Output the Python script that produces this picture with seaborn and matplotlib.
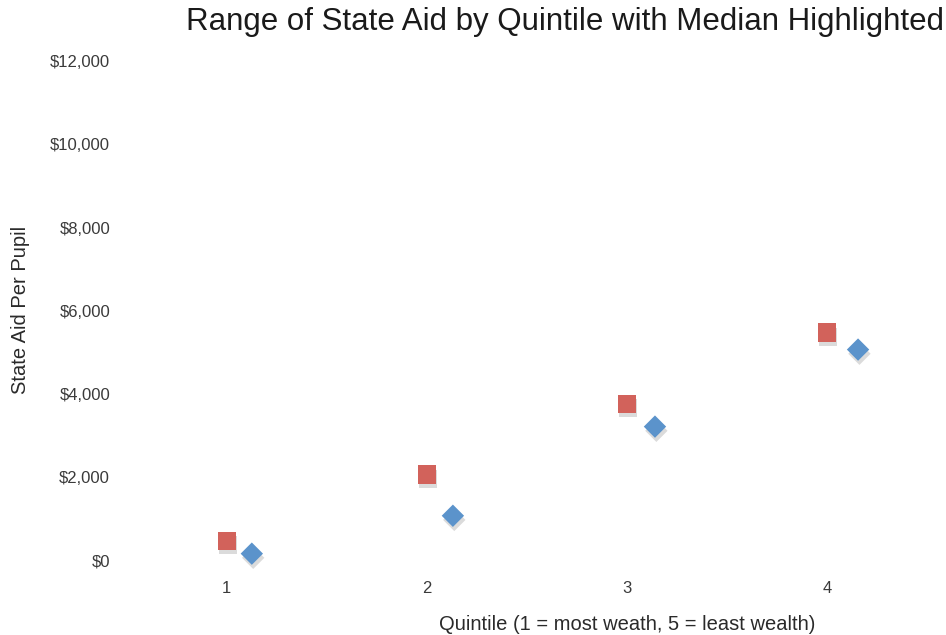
import matplotlib
matplotlib.use("Agg")
import matplotlib.pyplot as plt
import matplotlib.patheffects as pe
import pandas as pd
import seaborn as sns

# values
quintile_ticks = [1, 2, 3, 4]
median_x = [1, 2, 3, 4]
median_aid = [480, 2070, 3770, 5480]
range_x = [1.125, 2.13, 3.14, 4.155]
range_aid = [170, 1080, 3220, 5070]
y_ticks = [0, 2000, 4000, 6000, 8000, 10000, 12000]

red = "#D2625B"
blue = "#5B93CB"

df = pd.concat([
    pd.DataFrame({"quintile": median_x, "aid": median_aid, "series": "median"}),
    pd.DataFrame({"quintile": range_x, "aid": range_aid, "series": "range"}),
], ignore_index=True)

sns.set_theme(style="white")
plt.rcParams["font.family"] = ["Liberation Sans", "DejaVu Sans"]

fig = plt.figure(figsize=(9.46, 6.35), dpi=100)
ax = fig.add_axes([0.134, 0.094, 0.846, 0.81])

shadow = [pe.SimplePatchShadow(offset=(1, -3), shadow_rgbFace="0.6", alpha=0.35), pe.Normal()]

sns.scatterplot(data=df[df.series == "median"], x="quintile", y="aid", ax=ax,
                marker="s", s=170, color=red, edgecolor="none", legend=False)
sns.scatterplot(data=df[df.series == "range"], x="quintile", y="aid", ax=ax,
                marker="D", s=130, color=blue, edgecolor="none", legend=False)
for coll in ax.collections:
    coll.set_path_effects(shadow)

ax.set_xlim(0.5, 4.5)
ax.set_ylim(-350, 12000)
ax.set_xticks(quintile_ticks)
ax.set_xticklabels([str(q) for q in quintile_ticks], fontsize=12, color="#3a3a3a")
ax.set_yticks(y_ticks)
ax.set_yticklabels([f"${v:,}" for v in y_ticks], fontsize=12, color="#3a3a3a")
ax.tick_params(axis="x", length=0, pad=4)
ax.tick_params(axis="y", length=0, pad=12)
for s in ax.spines.values():
    s.set_visible(False)

ax.set_xlabel("")
ax.set_ylabel("")
fig.text(20 / 946, 1 - 310 / 635, "State Aid Per Pupil", rotation=90,
         ha="center", va="center", fontsize=14.5, color="#2a2a2a")
fig.text(627 / 946, 1 - 625 / 635, "Quintile (1 = most weath, 5 = least wealth)",
         ha="center", va="center", fontsize=14.5, color="#2a2a2a")
fig.text(565 / 946, 1 - 22 / 635, "Range of State Aid by Quintile with Median Highlighted",
         ha="center", va="center", fontsize=22.5, color="#1a1a1a")

fig.savefig("out.png", dpi=100)
